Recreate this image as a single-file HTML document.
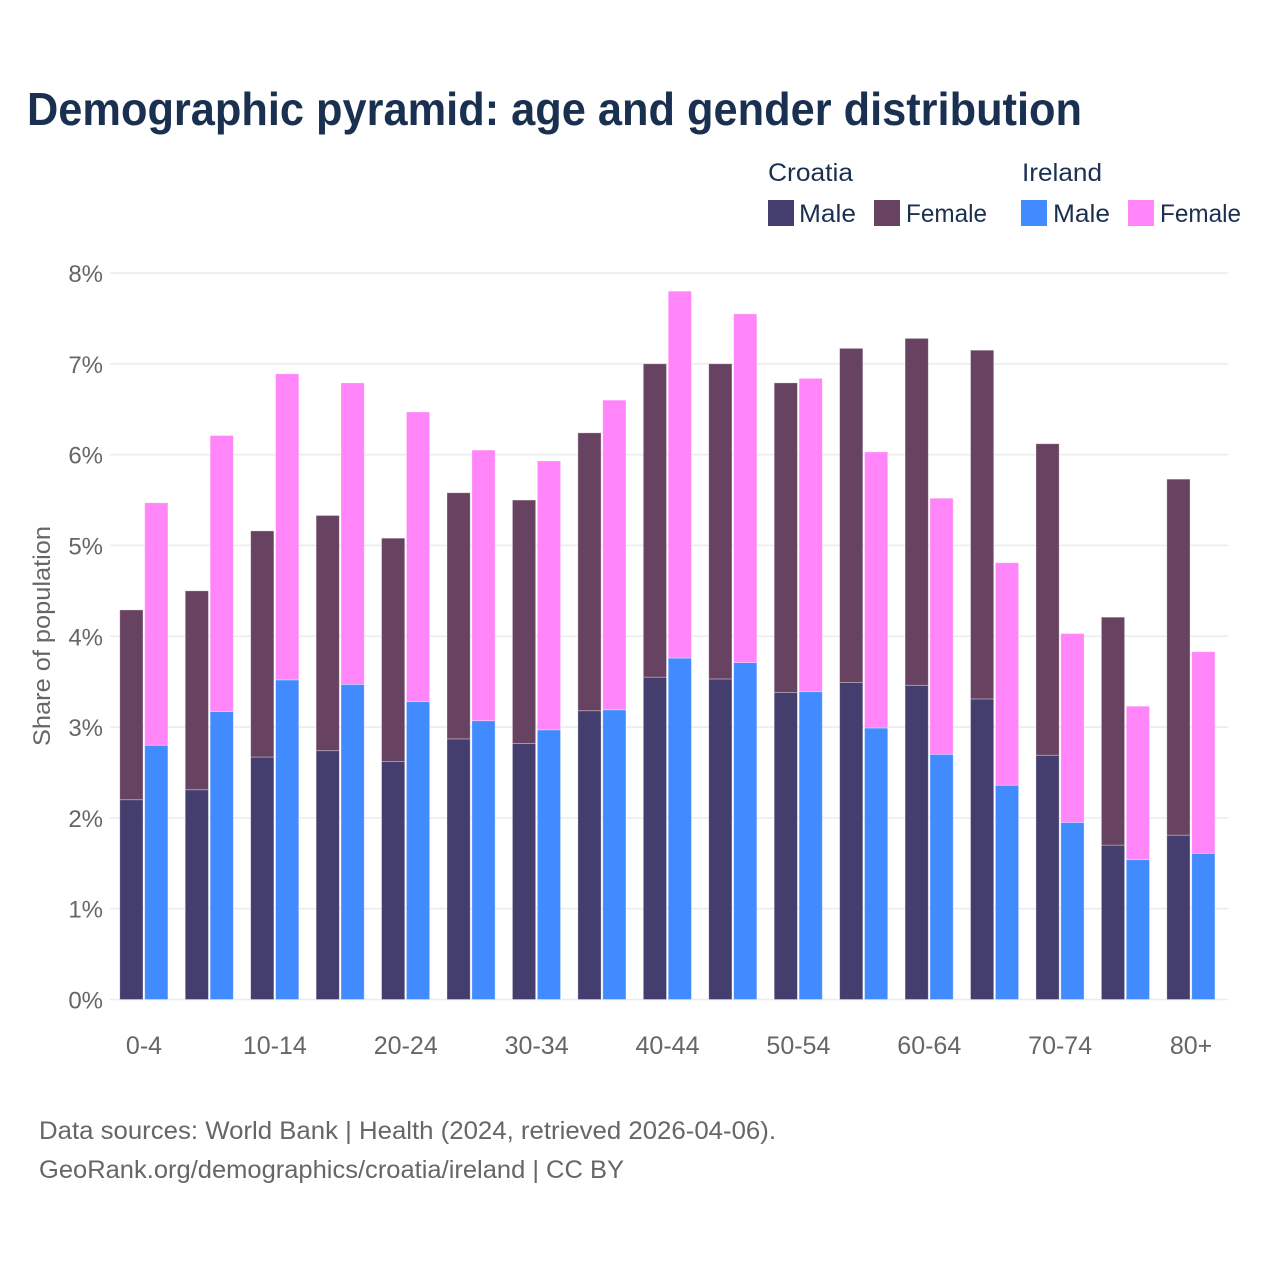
<!DOCTYPE html>
<html lang="en">
<head>
<meta charset="utf-8">
<title>Demographic pyramid</title>
<style>
html,body{margin:0;padding:0;background:#fff;width:1280px;height:1280px;overflow:hidden}
svg{display:block}
text{font-family:"Liberation Sans",sans-serif}
</style>
</head>
<body>
<svg id="chart" width="1280" height="1280" viewBox="0 0 1280 1280" xmlns="http://www.w3.org/2000/svg">
  <rect width="1280" height="1280" fill="#fff"/>
  <text x="27" y="125" font-size="46" font-weight="700" fill="#1a3050" textLength="1055" lengthAdjust="spacingAndGlyphs">Demographic pyramid: age and gender distribution</text>

  <g font-size="25" fill="#1a3050">
    <text x="768" y="181" textLength="85" lengthAdjust="spacingAndGlyphs">Croatia</text>
    <text x="1022" y="181" textLength="80" lengthAdjust="spacingAndGlyphs">Ireland</text>
    <rect x="768" y="200" width="26" height="26" fill="#433e6e"/>
    <text x="799" y="222" textLength="57" lengthAdjust="spacingAndGlyphs">Male</text>
    <rect x="874" y="200" width="26" height="26" fill="#674261"/>
    <text x="906" y="222" textLength="81" lengthAdjust="spacingAndGlyphs">Female</text>
    <rect x="1021" y="200" width="26" height="26" fill="#428bff"/>
    <text x="1053" y="222" textLength="57" lengthAdjust="spacingAndGlyphs">Male</text>
    <rect x="1128" y="200" width="26" height="26" fill="#ff85f8"/>
    <text x="1160" y="222" textLength="81" lengthAdjust="spacingAndGlyphs">Female</text>
  </g>

  <g id="grid"></g>
  <g id="yticks"></g>
  <g id="bars"></g>
  <g id="xticks"></g>

  <text transform="translate(50,636) rotate(-90)" text-anchor="middle" font-size="24" fill="#666" textLength="220" lengthAdjust="spacingAndGlyphs">Share of population</text>

  <text x="39" y="1139" font-size="25" fill="#666" textLength="737" lengthAdjust="spacingAndGlyphs">Data sources: World Bank | Health (2024, retrieved 2026-04-06).</text>
  <text x="39" y="1178" font-size="25" fill="#666" textLength="585" lengthAdjust="spacingAndGlyphs">GeoRank.org/demographics/croatia/ireland | CC BY</text>
</svg>
<script>
const categories = ["0-4","5-9","10-14","15-19","20-24","25-29","30-34","35-39","40-44","45-49","50-54","55-59","60-64","65-69","70-74","75-79","80+"];
const tickLabels = ["0-4","10-14","20-24","30-34","40-44","50-54","60-64","70-74","80+"];
const yTicks = [0,1,2,3,4,5,6,7,8];
const croatiaMale = [2.20,2.31,2.67,2.74,2.62,2.87,2.82,3.18,3.55,3.53,3.38,3.49,3.46,3.31,2.69,1.70,1.81];
const croatiaFemale = [2.09,2.19,2.49,2.59,2.46,2.71,2.68,3.06,3.45,3.47,3.41,3.68,3.82,3.84,3.43,2.51,3.92];
const irelandMale = [2.80,3.17,3.52,3.47,3.28,3.07,2.97,3.19,3.76,3.71,3.39,2.99,2.70,2.36,1.95,1.54,1.61];
const irelandFemale = [2.67,3.04,3.37,3.32,3.19,2.98,2.96,3.41,4.04,3.84,3.45,3.04,2.82,2.45,2.08,1.69,2.22];

const NS = "http://www.w3.org/2000/svg";
const y0 = 999.5, yPerUnit = 90.81;
const x0 = 119.8, step = 65.44, barW = 23.2, barGap = 24.9;
function yScale(v){ return y0 - v * yPerUnit; }
function groupX(i){ return x0 + i * step; }
function make(tag, attrs, parent){
  const el = document.createElementNS(NS, tag);
  for (const k in attrs) el.setAttribute(k, attrs[k]);
  parent.appendChild(el);
  return el;
}
const gridG = document.getElementById("grid");
const yG = document.getElementById("yticks");
const barsG = document.getElementById("bars");
const xG = document.getElementById("xticks");

yTicks.forEach(function(t){
  const line = make("line", {x1:110, x2:1228, y1:yScale(t), y2:yScale(t), stroke:"#ececec", "stroke-width":1.6}, gridG);
  
  
  const lab = make("text", {x:103, y:yScale(t)+9, "text-anchor":"end", "font-size":24, fill:"#666"}, yG);
  
  
  lab.textContent = t + "%";
});

function drawBar(x, base, value, fill){
  const top = yScale(base + value), bottom = yScale(base);
  const r = make("rect", {x:x, y:top, width:barW, height:bottom-top, fill:fill, stroke:"#fff", "stroke-opacity":0.4, "stroke-width":0.8}, barsG);
  
  
  return r;
}
categories.forEach(function(c, i){
  const x = groupX(i);
  drawBar(x, 0, croatiaMale[i], "#433e6e");
  drawBar(x, croatiaMale[i], croatiaFemale[i], "#674261");
  drawBar(x + barGap, 0, irelandMale[i], "#428bff");
  drawBar(x + barGap, irelandMale[i], irelandFemale[i], "#ff85f8");
  if (tickLabels.indexOf(c) >= 0) {
    const lab = make("text", {x:x + barW + 1, y:1054, "text-anchor":"middle", "font-size":25, fill:"#666"}, xG);
    
    
    lab.textContent = c;
  }
});
</script>
</body>
</html>
